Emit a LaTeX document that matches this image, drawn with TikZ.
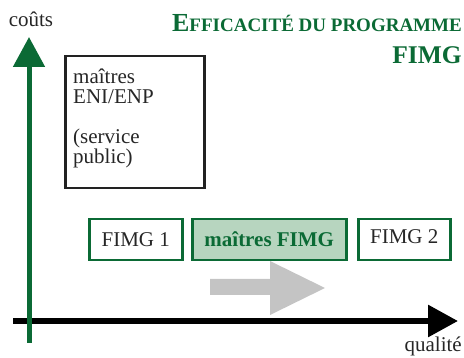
\documentclass[tikz,border=0pt]{standalone}
\usepackage{fontspec}
\setmainfont{Liberation Serif}
\usetikzlibrary{arrows.meta}
\definecolor{fimggreen}{HTML}{0B6A35}
\definecolor{fimgfill}{HTML}{B7D5BF}
\definecolor{shiftgray}{HTML}{C4C4C4}
\definecolor{boxline}{HTML}{222222}
\newcommand{\txtsize}{\fontsize{21}{22}\selectfont}
\tikzset{
  axislabel/.style={inner sep=0pt, font=\txtsize, text=black!85},
  stagebox/.style={draw=fimggreen, line width=2.5pt, inner sep=0pt,
    minimum height=41pt, font=\txtsize, text=black!85},
  currentbox/.style={stagebox, fill=fimgfill, text=fimggreen, font=\txtsize\bfseries},
  mainbox/.style={draw=boxline, line width=2.5pt, inner sep=0pt,
    minimum width=139pt, minimum height=132pt},
  titletext/.style={inner sep=0pt, text=fimggreen, font=\bfseries},
}
\begin{document}
\begin{tikzpicture}[x=1pt,y=-1pt]
  \useasboundingbox (0,0) rectangle (464,358);

  % axes
  \coordinate (xstart) at (13,321);
  \coordinate (xend) at (458,321);
  \coordinate (ystart) at (29,343);
  \coordinate (yend) at (29,37);
  \draw[line width=6pt, -{Triangle[width=31pt,length=30pt]}] (xstart) -- (xend);
  \draw[fimggreen, line width=5pt, -{Triangle[width=31pt,length=30pt]}] (ystart) -- (yend);

  \node[axislabel, anchor=base] (couts) at (31,27) {coûts};
  \node[axislabel, anchor=base east] (qualite) at (462,351.5) {qualité};

  % title
  \node[titletext, anchor=base east] (title1) at (462,32)
    {\fontsize{26}{27}\selectfont E\fontsize{19}{20}\selectfont FFICACITÉ DU PROGRAMME};
  \node[titletext, anchor=base east] (title2) at (462,64)
    {\fontsize{25.5}{27}\selectfont FIMG};

  % public service teachers
  \node[mainbox, anchor=north west] (eni) at (64,55) {};
  \node[inner sep=0pt, anchor=north west, align=left, font=\fontsize{21}{20}\selectfont,
        text=black!85] (enitext) at (73,69)
    {maîtres\\ENI/ENP\\[20pt](service\\public)};

  % programme stages
  \node[stagebox, minimum width=93pt, anchor=north west] (f1) at (88,218) {};
  \node[inner sep=0pt, anchor=base, font=\txtsize, text=black!85] at ([yshift=-29pt]f1.north) {FIMG 1};
  \node[currentbox, minimum width=154pt, anchor=north west] (fm) at (191,218) {};
  \node[inner sep=0pt, anchor=base, font=\txtsize\bfseries, text=fimggreen] at ([yshift=-29pt]fm.north) {maîtres FIMG};
  \node[stagebox, minimum width=92pt, anchor=north west] (f2) at (357,218) {};
  \node[inner sep=0pt, anchor=base, font=\txtsize, text=black!85] at ([yshift=-26pt]f2.north) {FIMG 2};

  % shift towards quality
  \fill[shiftgray] (210,279) -- (270,279) -- (270,261) -- (325,288) -- (270,315)
    -- (270,295) -- (210,295) -- cycle;
\end{tikzpicture}
\end{document}
